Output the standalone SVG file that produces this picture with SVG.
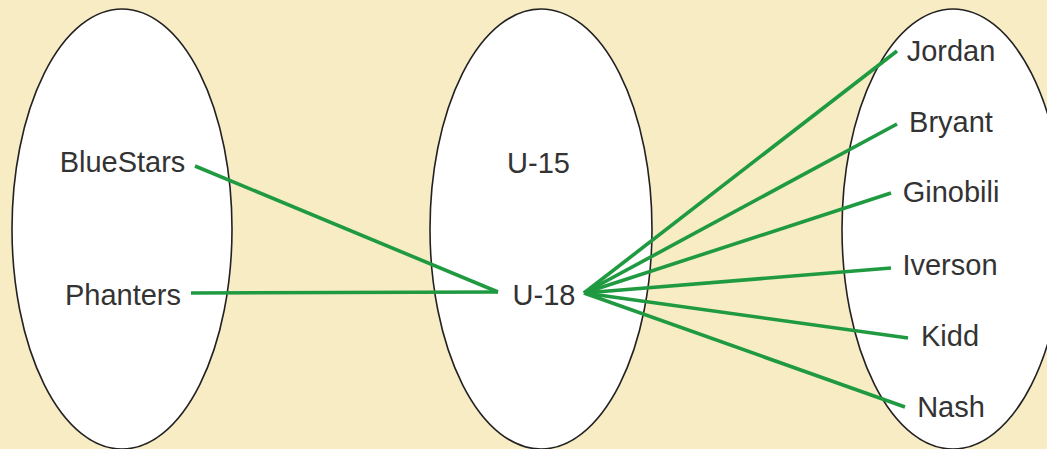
<svg xmlns="http://www.w3.org/2000/svg" width="1047" height="449" viewBox="0 0 1047 449">
<style>
.set{fill:#ffffff;stroke:#222222;stroke-width:1.6}
.lbl{font-family:"Liberation Sans",Arial,sans-serif;font-size:29px;fill:#333333;text-anchor:middle}
.edge{stroke:#1f9a40;stroke-width:3.6;stroke-linecap:butt;fill:none}
</style>
<rect x="0" y="0" width="1047" height="449" fill="#f8ecc5"/>
<g id="set-teams"><ellipse class="set" cx="122" cy="229" rx="110" ry="220"/></g>
<g id="set-categories"><ellipse class="set" cx="541" cy="229" rx="111" ry="220"/></g>
<g id="set-players"><ellipse class="set" cx="953" cy="229" rx="111" ry="220"/></g>
<g id="connectors">
<line class="edge" x1="195" y1="166" x2="498" y2="292"/>
<line class="edge" x1="191" y1="293" x2="498" y2="292"/>
<line class="edge" x1="584" y1="293" x2="897" y2="51"/>
<line class="edge" x1="584" y1="293" x2="897" y2="124"/>
<line class="edge" x1="584" y1="293" x2="891" y2="193"/>
<line class="edge" x1="584" y1="293" x2="891" y2="268"/>
<line class="edge" x1="584" y1="293" x2="908" y2="338"/>
<line class="edge" x1="584" y1="293" x2="905" y2="407"/>
</g>
<g id="node-bluestars"><text class="lbl" x="122.5" y="172">BlueStars</text></g>
<g id="node-phanters"><text class="lbl" x="123" y="305">Phanters</text></g>
<g id="node-u15"><text class="lbl" x="538.5" y="173">U-15</text></g>
<g id="node-u18"><text class="lbl" x="544" y="305">U-18</text></g>
<g id="node-jordan"><text class="lbl" x="951" y="61">Jordan</text></g>
<g id="node-bryant"><text class="lbl" x="951" y="132">Bryant</text></g>
<g id="node-ginobili"><text class="lbl" x="951" y="202">Ginobili</text></g>
<g id="node-iverson"><text class="lbl" x="950" y="275">Iverson</text></g>
<g id="node-kidd"><text class="lbl" x="950" y="346">Kidd</text></g>
<g id="node-nash"><text class="lbl" x="951" y="417">Nash</text></g>
</svg>
